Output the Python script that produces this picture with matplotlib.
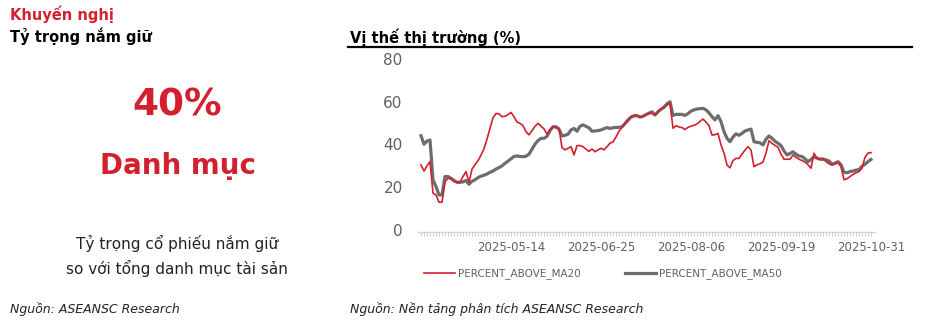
import matplotlib
matplotlib.use('Agg')
import matplotlib.pyplot as plt
from matplotlib.lines import Line2D

# ---------------- data ----------------
percent_above_ma20 = [
    30.4, 27.6, 30.0, 32.0, 17.2, 16.4, 13.0, 13.0, 22.5, 24.2,
    24.0, 22.6, 22.3, 22.3, 25.0, 27.3, 22.3, 28.5, 30.5, 32.5,
    35.0, 38.0, 42.5, 47.6, 52.5, 54.5, 54.3, 53.0, 53.2, 54.0,
    55.0, 53.0, 50.5, 49.9, 48.8, 46.0, 44.5, 46.5, 48.5, 49.9,
    48.6, 47.3, 44.8, 47.0, 48.3, 47.8, 47.6, 38.5, 37.5, 38.2,
    39.0, 35.1, 39.5, 39.5, 39.0, 37.8, 36.8, 37.9, 36.6, 37.5,
    38.2, 37.5, 39.0, 40.6, 41.2, 43.5, 46.2, 48.0, 49.8, 51.0,
    53.0, 53.8, 53.5, 52.8, 53.2, 54.0, 55.0, 54.5, 53.8, 55.5,
    56.6, 57.6, 58.6, 59.3, 47.6, 48.8, 48.2, 47.9, 47.0, 48.0,
    48.6, 49.0, 49.6, 50.8, 51.9, 50.5, 48.8, 44.4, 44.6, 45.2,
    39.8, 36.0, 30.4, 29.1, 32.5, 33.5, 33.5, 35.5, 37.4, 39.0,
    37.4, 29.6, 30.5, 31.0, 31.8, 36.0, 41.8, 40.5, 39.6, 38.7,
    35.5, 33.1, 33.1, 33.1, 35.1, 34.0, 33.1, 32.5, 31.8, 30.5,
    28.9, 35.9, 33.5, 33.3, 33.5, 32.0, 31.0, 30.4, 31.0, 31.5,
    29.6, 23.5, 24.0, 25.0, 26.0, 26.8, 27.3, 29.0, 34.0, 36.0,
    36.2,
]
percent_above_ma50 = [
    44.1, 40.1, 41.6, 42.1, 23.4, 20.3, 16.4, 16.4, 25.0, 25.0,
    24.2, 23.2, 22.3, 22.3, 22.5, 23.2, 21.4, 22.8, 23.5, 24.5,
    25.2, 25.6, 26.2, 27.0, 27.6, 28.5, 29.2, 30.0, 31.2, 32.2,
    33.3, 34.4, 34.6, 34.4, 34.3, 34.5, 35.5, 37.8, 40.2, 41.8,
    42.9, 42.9, 43.8, 46.5, 48.3, 48.3, 47.2, 44.0, 44.3, 44.8,
    46.8, 47.5, 46.2, 48.5, 49.2, 48.5, 47.8, 46.2, 46.3, 46.5,
    46.8, 47.4, 47.9, 47.5, 47.8, 48.0, 48.0, 48.3, 49.8, 51.5,
    52.8, 53.3, 53.5, 52.8, 53.2, 54.0, 54.6, 55.3, 53.8, 55.3,
    56.5, 57.4, 59.0, 60.0, 53.6, 54.1, 54.1, 54.1, 53.6, 54.5,
    55.6, 56.2, 56.6, 56.8, 56.9, 56.2, 54.8, 53.0, 51.5, 53.5,
    50.7, 46.0, 42.9, 41.3, 43.5, 45.0, 44.3, 45.2, 46.3, 46.8,
    47.2, 41.3, 41.0, 40.8, 39.8, 42.5, 44.0, 42.9, 41.5, 40.6,
    39.5, 37.0, 35.1, 35.8, 36.6, 35.5, 34.6, 34.4, 33.3, 32.0,
    33.0, 34.2, 33.6, 33.1, 33.1, 32.8, 32.3, 30.8, 31.2, 32.0,
    30.6, 27.0, 26.8, 27.3, 27.6, 28.0, 28.3, 29.8, 30.8, 32.0,
    33.0,
]
series_labels = ['PERCENT_ABOVE_MA20', 'PERCENT_ABOVE_MA50']
date_tick_labels = ['2025-05-14', '2025-06-25', '2025-08-06', '2025-09-19', '2025-10-31']
date_tick_step = 30
y_ticks = [0, 20, 40, 60, 80]

# ---------------- layout helpers ----------------
W, H = 948, 324
def fx(px):
    return px / W
def fy(py):
    return 1 - py / H

RED = '#d2202e'
GRAY = '#6d6d6d'
TXT_GRAY = '#606060'

plt.rcParams['font.family'] = ['DejaVu Sans']
fig = plt.figure(figsize=(9.48, 3.24), dpi=100)

# ---------------- left panel ----------------
fig.text(fx(10), fy(14), 'Khuyến nghị', color=RED, fontsize=10.5,
         fontweight='bold', ha='left', va='center')
fig.text(fx(10), fy(36), 'Tỷ trọng nắm giữ', color='black', fontsize=10.5,
         fontweight='bold', ha='left', va='center')
fig.text(fx(177), fy(106), '40%', color=RED, fontsize=27,
         fontweight='bold', ha='center', va='center')
fig.text(fx(178), fy(166), 'Danh mục', color=RED, fontsize=20,
         fontweight='bold', ha='center', va='center')
fig.text(fx(177), fy(243), 'Tỷ trọng cổ phiếu nắm giữ', color='#222222',
         fontsize=11, ha='center', va='center')
fig.text(fx(177), fy(268), 'so với tổng danh mục tài sản', color='#222222',
         fontsize=11, ha='center', va='center')
fig.text(fx(10), fy(309), 'Nguồn: ASEANSC Research', color='#222222',
         fontsize=9, style='italic', ha='left', va='center')

# ---------------- right panel ----------------
fig.text(fx(350), fy(37), 'Vị thế thị trường (%)', color='black', fontsize=10.5,
         fontweight='bold', ha='left', va='center')
fig.add_artist(Line2D([fx(348), fx(912)], [fy(46.5), fy(46.5)],
                      color='black', lw=1.6, transform=fig.transFigure))
fig.text(fx(350), fy(309), 'Nguồn: Nền tảng phân tích ASEANSC Research',
         color='#222222', fontsize=9, style='italic', ha='left', va='center')

ax = fig.add_axes([fx(418), fy(232), fx(875) - fx(418), fy(59) - fy(232)])
n = len(percent_above_ma20)
x = list(range(n))
l50, = ax.plot(x, percent_above_ma50, color=GRAY, lw=2.3, solid_joinstyle='round', zorder=2)
l20, = ax.plot(x, percent_above_ma20, color=RED, lw=1.2, zorder=3)

ax.set_xlim(-1, 151.33)
ax.set_ylim(-0.94, 80)
for s in ['top', 'right', 'left']:
    ax.spines[s].set_visible(False)
ax.spines['bottom'].set_color('#d4d4d4')
ax.spines['bottom'].set_linewidth(1.0)

major_pos = list(range(date_tick_step, n, date_tick_step))
ax.set_xticks(major_pos)
ax.set_xticklabels(date_tick_labels)
ax.set_xticks(x, minor=True)
ax.tick_params(axis='x', which='both', length=3, width=0.6, color='#c8c8c8',
               labelsize=8.5, labelcolor=TXT_GRAY, pad=3.5)
ax.set_yticks(y_ticks)
ax.tick_params(axis='y', length=0, labelsize=11, labelcolor=TXT_GRAY, pad=11)

fig.legend([l20, l50], series_labels, loc='center',
           bbox_to_anchor=(fx(603), fy(274)), ncol=2, frameon=False,
           fontsize=7.5, handlelength=3.0, columnspacing=4.2,
           handletextpad=0.3, labelcolor=TXT_GRAY)

fig.savefig('out.png', dpi=100)
